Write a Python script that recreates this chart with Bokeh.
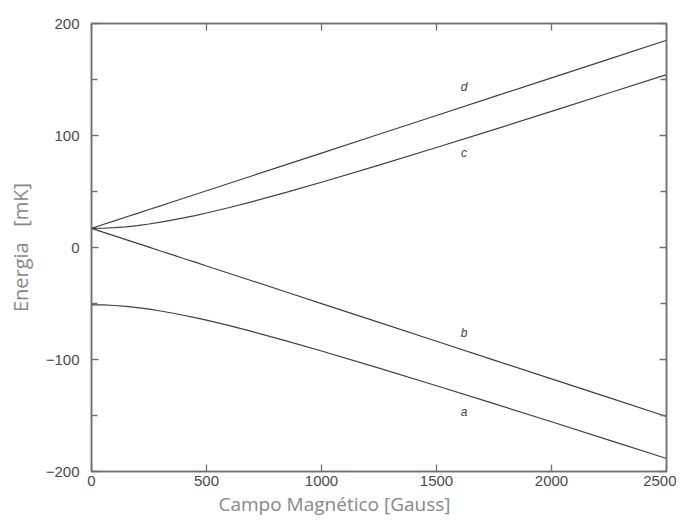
from bokeh.plotting import figure
from bokeh.models import (LinearAxis, FixedTicker, Label, Range1d, Title)
from bokeh.embed import file_html
from bokeh.resources import INLINE

# Magnetic field [Gauss]
field = [0, 50, 100, 150, 200, 250, 300, 350, 400, 450, 500, 600, 700, 850, 1000,
         1250, 1500, 1750, 2000, 2250, 2500]
# Energy levels [mK]
level_d = [17.1, 20.5, 23.8, 27.2, 30.5, 33.9, 37.2, 40.6, 44.0, 47.3, 50.7, 57.4, 64.1,
           74.2, 84.3, 101.1, 117.9, 134.7, 151.4, 168.2, 185.0]
level_c = [17.1, 17.2, 17.7, 18.5, 19.6, 21.0, 22.6, 24.4, 26.4, 28.5, 30.8, 35.7, 41.0,
           49.5, 58.3, 73.6, 89.3, 105.3, 121.5, 137.9, 154.3]
level_b = [17.1, 13.7, 10.4, 7.0, 3.7, 0.3, -3.1, -6.4, -9.8, -13.1, -16.5, -23.2, -29.9,
           -40.0, -50.1, -66.9, -83.7, -100.5, -117.3, -134.1, -150.9]
level_a = [-51.2, -51.3, -51.8, -52.6, -53.7, -55.1, -56.7, -58.5, -60.5, -62.6, -64.9,
           -69.8, -75.1, -83.6, -92.4, -107.7, -123.4, -139.4, -155.6, -172.0, -188.4]

curve_names = ["d", "c", "b", "a"]
curve_label_x = [1620, 1620, 1620, 1620]
curve_label_y = [143, 84, -76, -147]

y_major = [-200, -100, 0, 100, 200]
y_minor = [-150, -50, 50, 150]
x_major = [0, 500, 1000, 1500, 2000, 2500]

frame_col = "#707070"
line_col = "#404040"
title_col = "#888888"
tick_font = "Liberation Sans"

p = figure(frame_width=575, frame_height=448, output_backend="svg", toolbar_location=None,
           x_range=Range1d(0, 2500), y_range=Range1d(-200, 200),
           min_border_left=91, min_border_right=10, min_border_top=23, min_border_bottom=10,
           x_axis_type=None, y_axis_type=None)
p.grid.visible = False
p.outline_line_color = frame_col
p.outline_line_width = 1.5
p.background_fill_color = "white"
p.border_fill_color = "white"

def make_axis(show_labels, is_y):
    ax = LinearAxis()
    if is_y:
        ax.ticker = FixedTicker(ticks=y_major, minor_ticks=y_minor)
        ax.major_label_overrides = {-200: "\u2212200", -100: "\u2212100"}
    else:
        ax.ticker = FixedTicker(ticks=x_major)
    ax.axis_line_color = frame_col
    ax.axis_line_width = 1.5
    ax.major_tick_line_color = frame_col
    ax.minor_tick_line_color = frame_col
    ax.major_tick_line_width = 1.3
    ax.minor_tick_line_width = 1.3
    ax.major_tick_in = 7
    ax.major_tick_out = 0
    ax.minor_tick_in = 6
    ax.minor_tick_out = 0
    ax.major_label_text_font = tick_font
    ax.major_label_text_font_size = "15px"
    ax.major_label_text_color = "#4a4a4a"
    ax.major_label_standoff = 5
    if not show_labels:
        ax.major_label_text_alpha = 0
        ax.major_label_text_font_size = "1px"
    return ax

yaxis = make_axis(True, True)
yaxis.major_label_standoff = 12
yaxis.axis_label = "Energia\u00a0\u00a0\u00a0[mK]"
yaxis.axis_label_text_font = "Open Sans"
yaxis.axis_label_text_font_style = "normal"
yaxis.axis_label_text_font_size = "20px"
yaxis.axis_label_text_color = title_col
yaxis.axis_label_standoff = 9
p.add_layout(yaxis, "left")
p.add_layout(make_axis(False, True), "right")
xaxis = make_axis(True, False)
xaxis.major_label_standoff = 4
p.add_layout(xaxis, "below")
p.add_layout(make_axis(False, False), "above")

p.add_layout(Title(text="Campo Magnético [Gauss]", align="left", offset=127, standoff=0,
                   text_font="Open Sans", text_font_style="normal",
                   text_font_size="19px", text_color=title_col), "below")

for ys in [level_d, level_c, level_b, level_a]:
    p.line(field, ys, line_color=line_col, line_width=1.2)

for name, lx, ly in zip(curve_names, curve_label_x, curve_label_y):
    p.add_layout(Label(x=lx, y=ly, text=name, text_font="Liberation Sans",
                       text_font_style="italic", text_font_size="12px",
                       text_color="#444444", text_align="center", text_baseline="middle"))

open("out.html", "w").write(file_html(p, INLINE))
